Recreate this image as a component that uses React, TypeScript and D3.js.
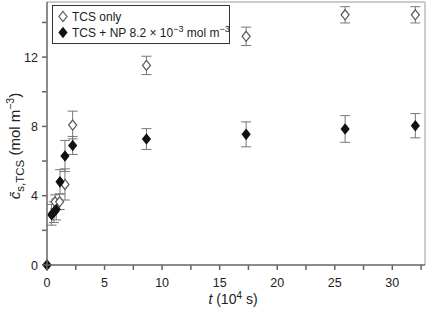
import React from "react";
import * as d3 from "d3";

const tcsT = [0, 0.7, 1.1, 1.56, 2.23, 8.64, 17.3, 25.9, 32.0];
const tcsC = [0, 3.65, 3.65, 4.65, 8.08, 11.52, 13.2, 14.44, 14.44];
const tcsErr = [0, 0.4, 0.45, 0.9, 0.8, 0.53, 0.53, 0.47, 0.47];

const npT = [0, 0.4, 0.6, 0.8, 1.13, 1.56, 2.23, 8.64, 17.3, 25.9, 32.0];
const npC = [0, 2.9, 3.05, 3.2, 4.8, 6.29, 6.9, 7.27, 7.54, 7.85, 8.04];
const npErr = [0, 0.6, 0.6, 0.6, 0.7, 0.9, 0.52, 0.6, 0.72, 0.77, 0.7];

const xMajor = [0, 5, 10, 15, 20, 25, 30];
const xMinor = [2.5, 7.5, 12.5, 17.5, 22.5, 27.5, 32.5];
const yMajor = [0, 4, 8, 12];
const yMinor = [2, 6, 10, 14];

const W = 428, H = 314;
const L = 47, R = 425, T = 2, B = 265;

const x = d3.scaleLinear().domain([0, 32.84]).range([L, R]);
const y = d3.scaleLinear().domain([0, 15.18]).range([B, T]);

const font = "'Liberation Sans', Arial, Helvetica, sans-serif";
const diamond = (cx: number, cy: number, w = 4.6, h = 5.8) =>
  `M${cx},${cy - h}L${cx + w},${cy}L${cx},${cy + h}L${cx - w},${cy}Z`;

function ErrBar({ t, c, e }: { t: number; c: number; e: number }) {
  if (e <= 0) return null;
  const px = x(t), y1 = y(c + e), y2 = y(c - e);
  return (
    <g stroke="#777" strokeWidth={1} fill="none">
      <line x1={px} x2={px} y1={y1} y2={y2} />
      <line x1={px - 5} x2={px + 5} y1={y1} y2={y1} />
      <line x1={px - 5} x2={px + 5} y1={y2} y2={y2} />
    </g>
  );
}

export default function App() {
  return (
    <svg width={W} height={H} style={{ position: "absolute", left: 0, top: 0, background: "#fff" }} fontFamily={font}>
      <rect x={0} y={0} width={W} height={H} fill="#fff" />
      {/* frame */}
      <line x1={L} x2={R} y1={T} y2={T} stroke="#bbb" strokeWidth={1.5} />
      <line x1={R} x2={R} y1={T} y2={B} stroke="#bbb" strokeWidth={1.5} />
      {/* error bars */}
      {tcsT.map((t, i) => <ErrBar key={"te" + i} t={t} c={tcsC[i]} e={tcsErr[i]} />)}
      {npT.map((t, i) => <ErrBar key={"ne" + i} t={t} c={npC[i]} e={npErr[i]} />)}
      {/* open diamonds */}
      {tcsT.map((t, i) => (
        <path key={"to" + i} d={diamond(x(t), y(tcsC[i]), 4, 5)} fill="#fff" stroke="#555" strokeWidth={1.2} />
      ))}
      {npT.map((t, i) => (
        <path key={"nf" + i} d={diamond(x(t), y(npC[i]))} fill="#111" stroke="none" />
      ))}
      {/* axes */}
      <line x1={L} x2={R} y1={B} y2={B} stroke="#666" strokeWidth={1.5} />
      <line x1={L} x2={L} y1={T} y2={B} stroke="#666" strokeWidth={1.5} />
      {xMajor.concat(xMinor).map((v) => (
        <line key={"xt" + v} x1={x(v)} x2={x(v)} y1={B} y2={B + 5} stroke="#666" strokeWidth={1.5} />
      ))}
      {yMajor.concat(yMinor).map((v) => (
        <line key={"yt" + v} x1={L - 5} x2={L} y1={y(v)} y2={y(v)} stroke="#666" strokeWidth={1.5} />
      ))}
      {xMajor.map((v) => (
        <text key={"xl" + v} x={x(v)} y={B + 22} textAnchor="middle" fontSize={12.5} fill="#222">{v}</text>
      ))}
      {yMajor.map((v) => (
        <text key={"yl" + v} x={L - 9} y={y(v) + 4.5} textAnchor="end" fontSize={12.5} fill="#222">{v}</text>
      ))}
      {/* axis titles */}
      <text x={233} y={304} textAnchor="middle" fontSize={14} fill="#222">
        <tspan fontStyle="italic">t</tspan> (10<tspan dy={-5} fontSize={10}>4</tspan><tspan dy={5}> s)</tspan>
      </text>
      <text transform="translate(20,146) rotate(-90)" textAnchor="middle" fontSize={15} fill="#222">
        <tspan fontStyle="italic">{"c\u0304"}</tspan>
        <tspan dy={4} fontSize={11.5}>s,TCS</tspan>
        <tspan dy={-4}> (mol m</tspan>
        <tspan dy={-6} fontSize={10.5}>−3</tspan>
        <tspan dy={6}>)</tspan>
      </text>
      {/* legend */}
      <rect x={52.5} y={5.5} width={177} height={38} fill="#fff" stroke="#333" strokeWidth={1} />
      <path d={diamond(63, 16.5, 4, 5)} fill="#fff" stroke="#555" strokeWidth={1.2} />
      <text x={72} y={21} fontSize={12} fill="#222">TCS only</text>
      <path d={diamond(63, 32.5)} fill="#111" />
      <text x={72} y={37} fontSize={12} fill="#222">
        TCS + NP 8.2 × 10<tspan dy={-5} fontSize={9}>−3</tspan><tspan dy={5}> mol m</tspan><tspan dy={-5} fontSize={9}>−3</tspan>
      </text>
    </svg>
  );
}
